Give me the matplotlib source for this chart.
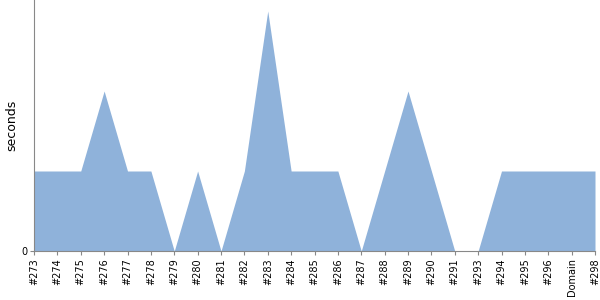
import matplotlib
matplotlib.use("Agg")
import matplotlib.pyplot as plt

labels = ["#273", "#274", "#275", "#276", "#277", "#278", "#279", "#280", "#281",
          "#282", "#283", "#284", "#285", "#286", "#287", "#288", "#289", "#290",
          "#291", "#293", "#294", "#295", "#296", "Domain", "#298"]
values = [1, 1, 1, 2, 1, 1, 0, 1, 0, 1, 3, 1, 1, 1, 0, 1, 2, 1, 0, 0, 1, 1, 1, 1, 1]

fig = plt.figure(figsize=(6, 3), dpi=100)
ax = fig.add_axes([34/600, 49/300, (595-34)/600, 251/300])
x = list(range(len(labels)))
ax.fill_between(x, values, 0, color="#8fb2da", linewidth=0)
ax.set_xlim(0, len(labels) - 1)
ax.set_ylim(0, 3 * 251 / 240)
ax.set_xticks(x)
ax.set_xticklabels(labels, rotation=90, fontsize=7)
ax.set_yticks([0])
ax.set_yticklabels(["0"], fontsize=7)
ax.set_ylabel("seconds", fontsize=9, labelpad=2)
for s in ["top", "right"]:
    ax.spines[s].set_visible(False)
for s in ["left", "bottom"]:
    ax.spines[s].set_color("#888888")
ax.tick_params(axis="both", length=3, color="#888888", pad=2)
fig.savefig("out.png", dpi=100)
